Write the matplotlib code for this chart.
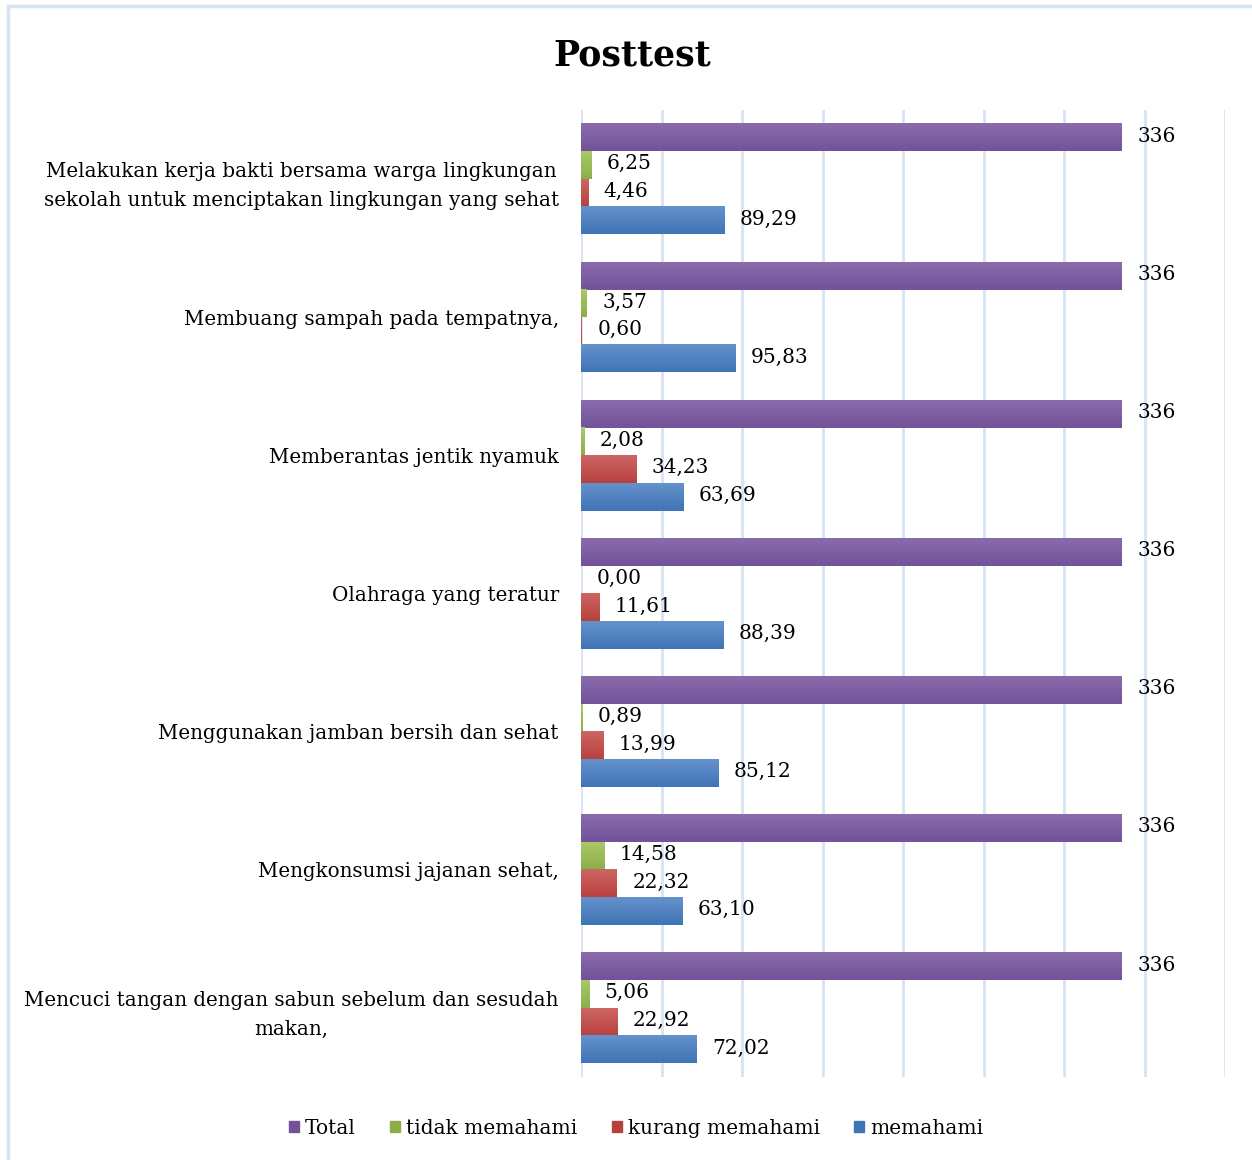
import numpy as np
import matplotlib
matplotlib.use("Agg")
import matplotlib.pyplot as plt
from matplotlib.colors import LinearSegmentedColormap
from matplotlib.lines import Line2D

plt.rcParams['font.family'] = ['DejaVu Serif']

# data (top to bottom as in the chart)
categories = [
    "Melakukan kerja bakti bersama warga lingkungan\nsekolah untuk menciptakan lingkungan yang sehat",
    "Membuang sampah pada tempatnya,",
    "Memberantas jentik nyamuk",
    "Olahraga yang teratur",
    "Menggunakan jamban bersih dan sehat",
    "Mengkonsumsi jajanan sehat,",
    "Mencuci tangan dengan sabun sebelum dan sesudah\nmakan,",
]
total = [336, 336, 336, 336, 336, 336, 336]
tidak_memahami = [6.25, 3.57, 2.08, 0.00, 0.89, 14.58, 5.06]
kurang_memahami = [4.46, 0.60, 34.23, 11.61, 13.99, 22.32, 22.92]
memahami = [89.29, 95.83, 63.69, 88.39, 85.12, 63.10, 72.02]

series = [
    ("Total", total, "#8a6bab", "#72539a"),
    ("tidak memahami", tidak_memahami, "#a9c96a", "#8cae4a"),
    ("kurang memahami", kurang_memahami, "#cc6663", "#b8413e"),
    ("memahami", memahami, "#6592cb", "#3f74b6"),
]

fig = plt.figure(figsize=(12.52, 11.6), dpi=100)
ax = fig.add_axes([581/1252, 1 - 1077/1160, (1225-581)/1252, (1077-110)/1160])

n = len(categories)
h = 0.2
ypos = np.arange(n)[::-1]  # first category at top

for k, (name, vals, c_top, c_bot) in enumerate(series):
    off = 1.5*h - k*h
    cmap = LinearSegmentedColormap.from_list(name, [c_bot, c_top])
    grad = np.linspace(0, 1, 50).reshape(-1, 1)
    for y, v in zip(ypos, vals):
        yc = y + off
        if v > 0:
            ax.imshow(grad, cmap=cmap, origin='lower', aspect='auto',
                      extent=(0, v, yc - h/2, yc + h/2), zorder=3)
        lab = str(int(v)) if name == "Total" else f"{v:.2f}".replace(".", ",")
        ax.annotate(lab, (v, yc), xytext=(11, 1), textcoords='offset points',
                    va='center', ha='left', fontsize=14.5, zorder=4)

ax.set_xlim(0, 400)
ax.set_ylim(-0.5, n - 0.5)
ax.set_xticks(np.arange(0, 401, 50))
ax.set_xticklabels([])
ax.tick_params(axis='x', length=0)
ax.grid(axis='x', color='#d7e4f3', linewidth=2, zorder=0)
ax.set_yticks(ypos)
ax.set_yticklabels(categories, fontsize=14.3, multialignment='center',
                   linespacing=1.65)
ax.tick_params(axis='y', length=0, pad=16)
for s in ax.spines.values():
    s.set_visible(False)

fig.text(0.505, 1 - 55/1160, "Posttest", ha='center', va='center',
         fontsize=25, fontweight='bold')

handles = [plt.Rectangle((0, 0), 1, 1, color=c2) for _, _, c1, c2 in series]
fig.legend(handles, [s[0] for s in series], loc='center',
           bbox_to_anchor=(0.508, 1 - 1128/1160), ncol=4, frameon=False,
           fontsize=14.5, handlelength=0.5, handleheight=0.5,
           handletextpad=0.3, columnspacing=1.7)

# chart border (top and left edges visible)
fig.add_artist(Line2D([8/1252, 8/1252], [0, 1 - 6/1160], color='#d7e4f3', lw=2.5))
fig.add_artist(Line2D([8/1252, 1], [1 - 6/1160, 1 - 6/1160], color='#d7e4f3', lw=2.5))

fig.savefig("out.png", dpi=100)
